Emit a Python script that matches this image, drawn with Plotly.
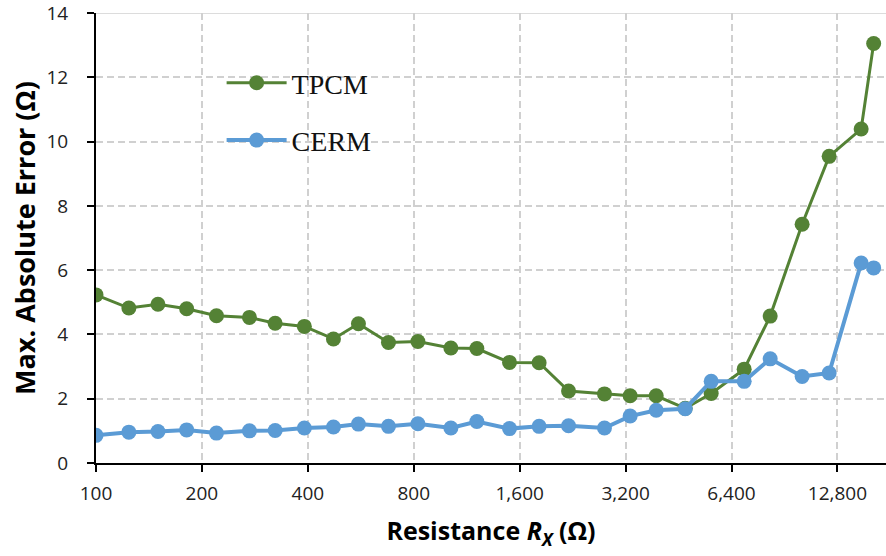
import math
import plotly.graph_objects as go

# Data
resistance = [100, 124, 150, 181, 220, 273, 323, 391, 473, 557, 678, 822, 1020, 1209,
              1497, 1817, 2203, 2787, 3297, 3910, 4727, 5603, 6953, 8243, 10160, 12125,
              14950, 16225]
tpcm = [5.23, 4.82, 4.94, 4.80, 4.58, 4.53, 4.35, 4.25, 3.86, 4.33, 3.75, 3.78, 3.58, 3.56,
        3.13, 3.12, 2.24, 2.15, 2.09, 2.09, 1.70, 2.16, 2.92, 4.57, 7.43, 9.54, 10.39, 13.05]
cerm = [0.86, 0.96, 0.98, 1.03, 0.93, 1.00, 1.01, 1.09, 1.12, 1.21, 1.14, 1.22, 1.09, 1.29,
        1.07, 1.14, 1.16, 1.09, 1.46, 1.64, 1.69, 2.54, 2.54, 3.24, 2.69, 2.80, 6.22, 6.07]
x_tickvals = [100, 200, 400, 800, 1600, 3200, 6400, 12800]
x_ticktext = ["100", "200", "400", "800", "1,600", "3,200", "6,400", "12,800"]
y_tickvals = [0, 2, 4, 6, 8, 10, 12, 14]

GREEN = "#548235"
BLUE = "#5B9BD5"
GRID = "#D0D0D0"
TXT = "#222222"
FONT = "Open Sans"

fig = go.Figure()
fig.add_trace(go.Scatter(
    x=resistance, y=tpcm, name="TPCM", mode="lines+markers", legendgroup="a",
    line=dict(color=GREEN, width=3), marker=dict(color=GREEN, size=15)))
fig.add_trace(go.Scatter(
    x=resistance, y=cerm, name="CERM", mode="lines+markers", legendgroup="b",
    line=dict(color=BLUE, width=4), marker=dict(color=BLUE, size=15)))

fig.update_layout(
    width=886, height=556,
    margin=dict(l=96, r=0, t=13, b=93),
    paper_bgcolor="white", plot_bgcolor="white",
    font=dict(family=FONT, size=19, color=TXT),
    showlegend=True,
    legend=dict(
        x=0.159, y=0.90, xanchor="left", yanchor="top",
        font=dict(family="Liberation Serif", size=28, color="#111111"),
        bgcolor="rgba(0,0,0,0)", tracegroupgap=18, itemwidth=60,
    ),
    xaxis=dict(
        type="log", range=[2, math.log10(17590)],
        tickvals=x_tickvals, ticktext=x_ticktext,
        showline=True, linecolor="black", linewidth=2,
        ticks="outside", ticklen=7, tickwidth=2, tickcolor="black",
        showgrid=True, gridcolor=GRID, gridwidth=1.5, griddash="7px,4px",
        zeroline=False, ticklabeloverflow="allow",
        tickfont=dict(family=FONT, size=19, color=TXT),
        ticklabelstandoff=5,
        title=dict(text="Resistance <i>R</i><sub><i>X</i></sub> (Ω)",
                   font=dict(family=FONT, size=25, color="black", weight="bold"),
                   standoff=18),
    ),
    yaxis=dict(
        range=[0, 14], tickvals=y_tickvals,
        showline=True, linecolor="black", linewidth=2,
        ticks="outside", ticklen=7, tickwidth=2, tickcolor="black",
        showgrid=True, gridcolor=GRID, gridwidth=1.5, griddash="7px,4px",
        zeroline=False, ticklabeloverflow="allow",
        tickfont=dict(family=FONT, size=19, color=TXT),
        ticklabelstandoff=15,
        title=dict(text="Max. Absolute Error (Ω)",
                   font=dict(family=FONT, size=27, color="black", weight="bold"),
                   standoff=3),
    ),
    shapes=[dict(type="line", xref="paper", x0=0, x1=1, yref="y", y0=14, y1=14,
                 line=dict(color=GRID, width=1.5), layer="below")],
)

fig.write_html("out.html")
